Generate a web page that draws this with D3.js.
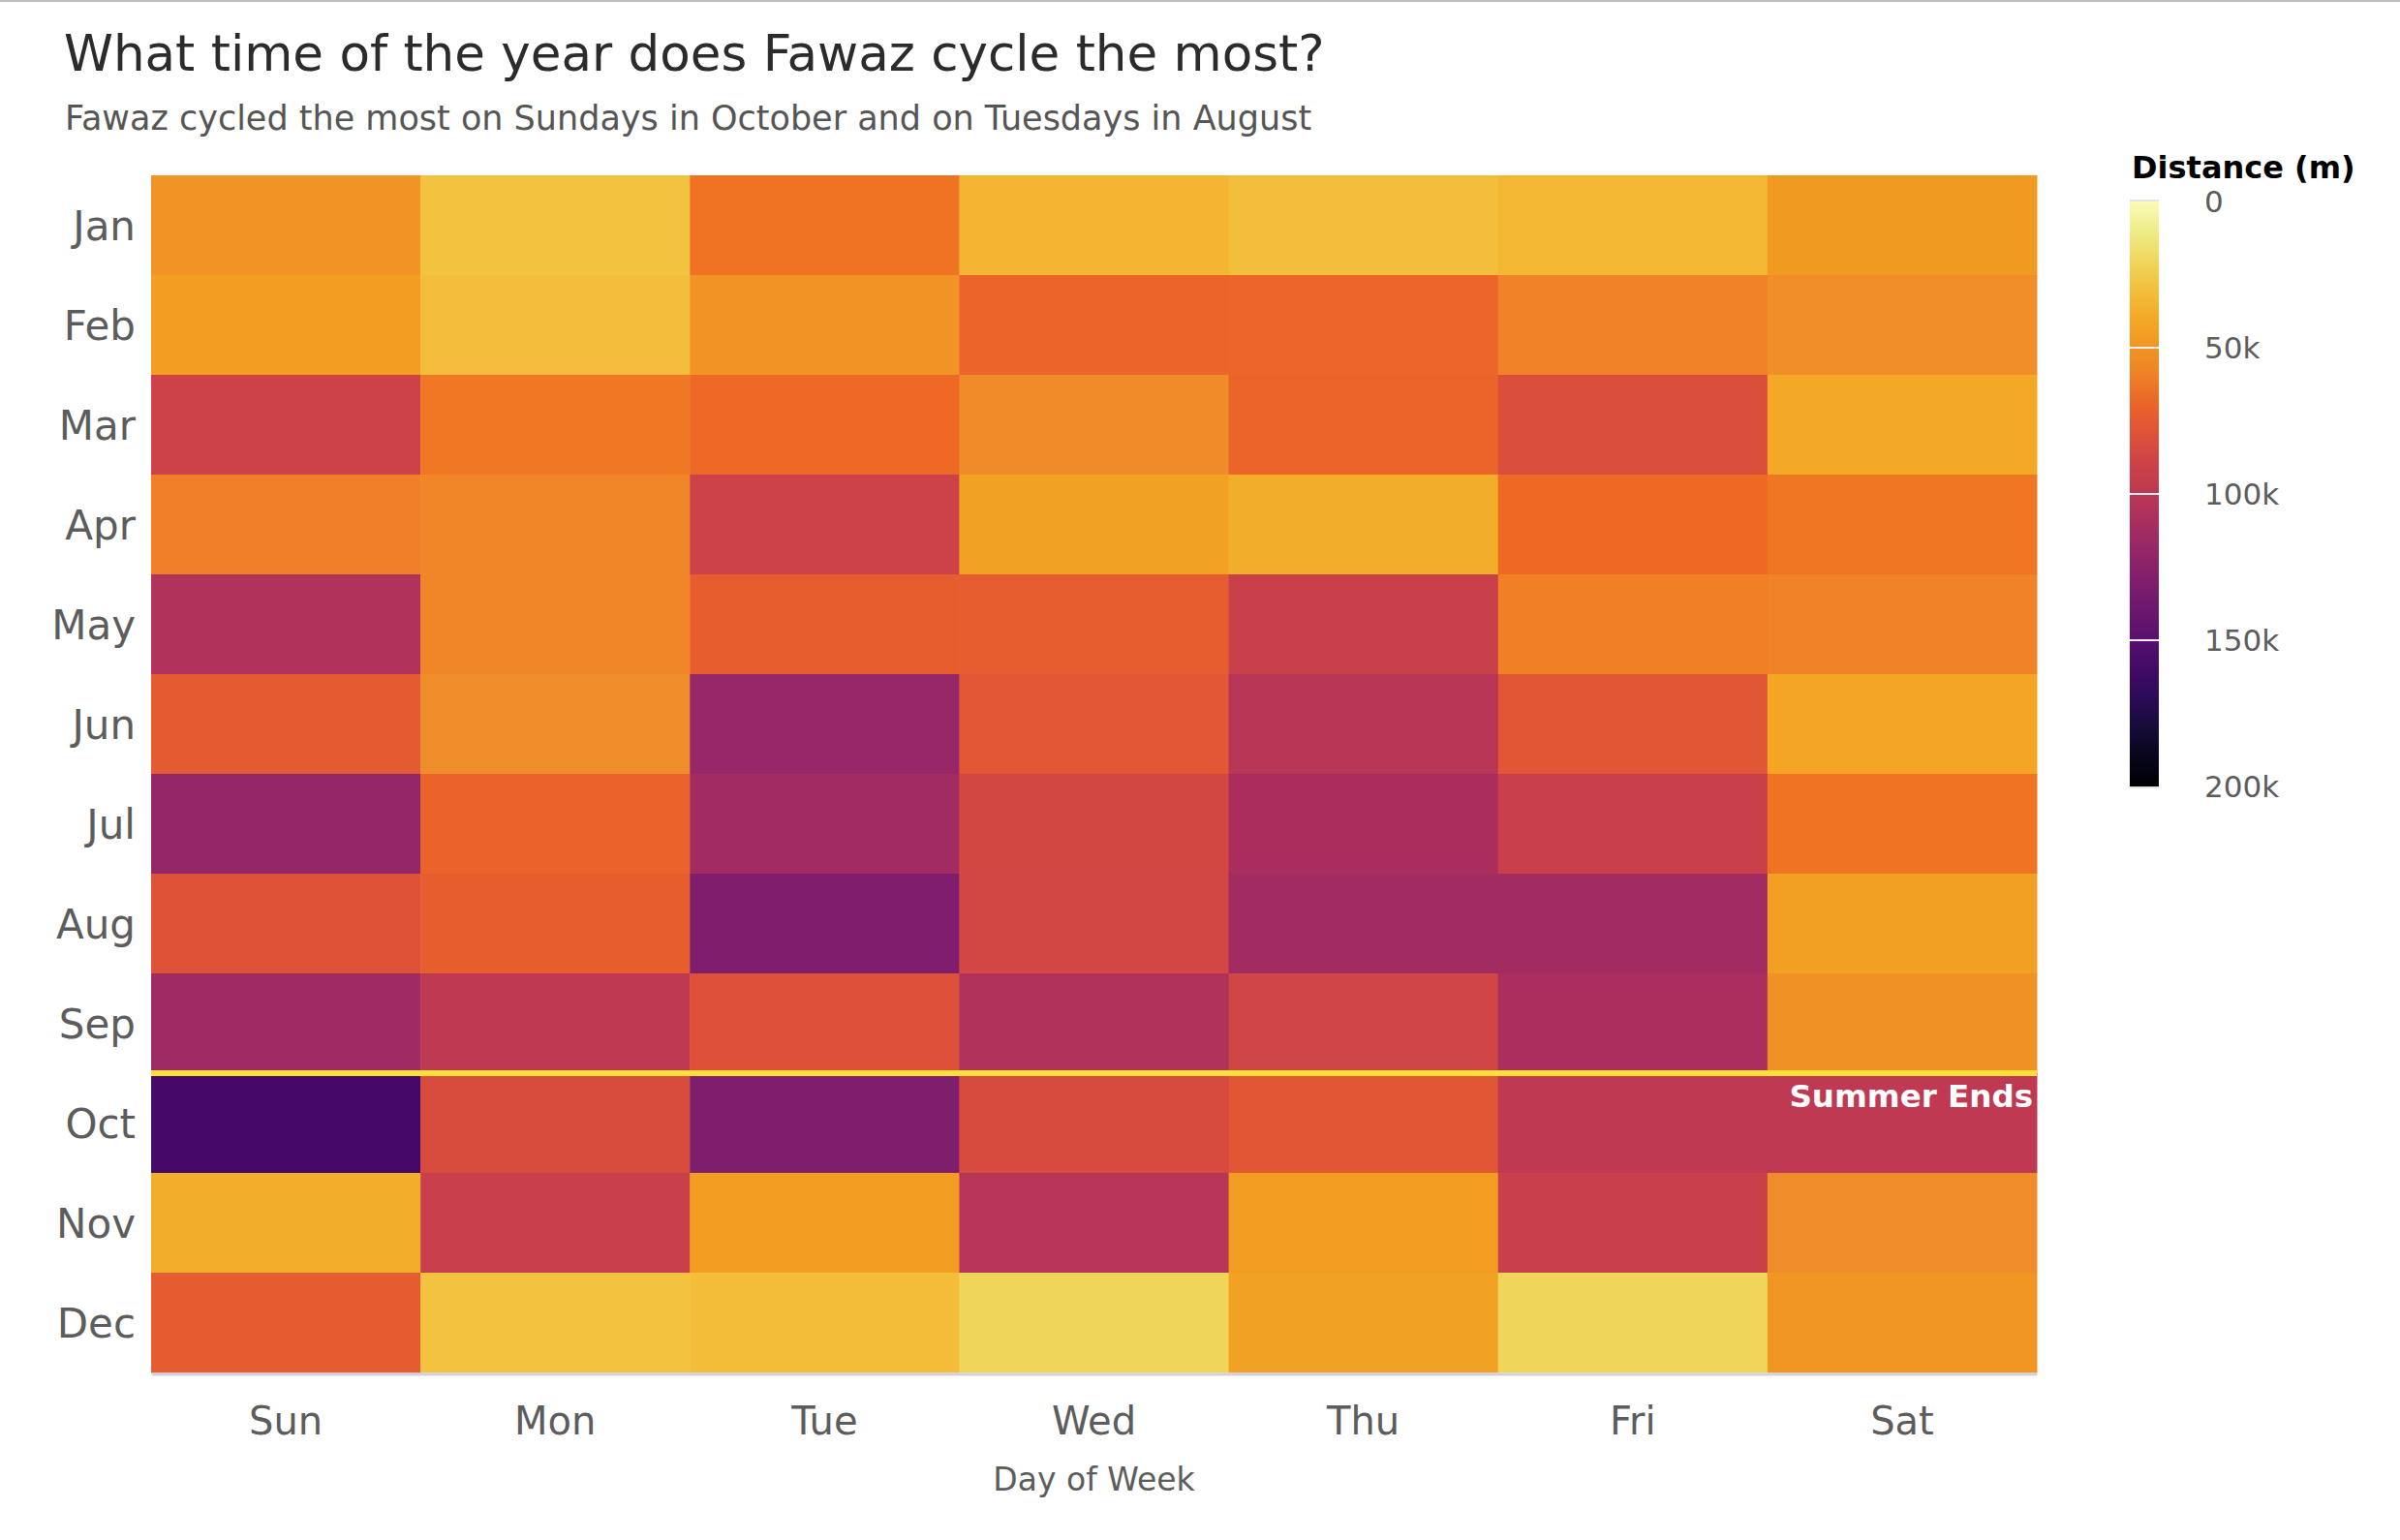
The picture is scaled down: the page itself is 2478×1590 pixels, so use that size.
<!DOCTYPE html>
<html>
  <head>
    <meta charset="utf-8">
    <title>What time of the year does Fawaz cycle the most?</title>
    <style>
      html, body {
        margin: 0;
        padding: 0;
        background: #fff;
      }
      svg text {
        font-family: 'DejaVu Sans', 'Open Sans', sans-serif;
      }
    </style>
  </head>
  <body>
    <div id="chart"></div>

    <script src="https://cdn.jsdelivr.net/npm/d3@7"></script>
    <script>
    // data: total distance (m) per month / weekday
    var days = ['Sun', 'Mon', 'Tue', 'Wed', 'Thu', 'Fri', 'Sat'];
    var months = ['Jan', 'Feb', 'Mar', 'Apr', 'May', 'Jun', 'Jul', 'Aug', 'Sep', 'Oct', 'Nov', 'Dec'];

    var jan = [51000, 29000, 63000, 35000, 31000, 34000, 47000];
    var feb = [45000, 31000, 51000, 69000, 68000, 58000, 53000];
    var mar = [90000, 61000, 67000, 55000, 69000, 82000, 40000];
    var apr = [60000, 57000, 90000, 43000, 38000, 66000, 62000];
    var may = [105000, 57000, 72000, 73000, 92000, 59000, 58000];
    var jun = [75000, 54000, 118000, 76000, 101000, 77000, 42000];
    var jul = [120000, 70000, 113000, 86000, 109000, 92000, 63000];
    var aug = [79000, 72000, 130000, 87000, 113000, 113000, 44000];
    var sep = [114000, 98000, 80000, 105000, 88000, 108000, 52000];
    var oct = [158000, 83000, 130000, 84000, 77000, 98000, 98000];
    var nov = [38000, 92000, 46000, 102000, 46000, 92000, 54000];
    var dec = [74000, 29000, 32000, 21000, 43000, 21000, 50000];
    var distance = [jan, feb, mar, apr, may, jun, jul, aug, sep, oct, nov, dec];

    var legendTicks = [0, 50000, 100000, 150000, 200000];

    var width = 2478, height = 1590;
    var plot = { left: 156, right: 2103, top: 181, bottom: 1417 };

    var svg = d3.select('#chart').append('svg')
      .attr('width', width)
      .attr('height', height);

    // thin grey rule across the very top
    svg.append('rect')
      .attr('x', 0).attr('y', 0)
      .attr('width', width).attr('height', 2)
      .attr('fill', '#bdbdbd');

    svg.append('text')
      .attr('x', 66).attr('y', 73)
      .attr('font-size', 51.5)
      .attr('fill', '#2b2b2b')
      .text('What time of the year does Fawaz cycle the most?');

    svg.append('text')
      .attr('x', 67).attr('y', 134)
      .attr('font-size', 35)
      .attr('fill', '#555')
      .text('Fawaz cycled the most on Sundays in October and on Tuesdays in August');

    var x = d3.scaleBand().domain(days).range([plot.left, plot.right]);
    var y = d3.scaleBand().domain(months).range([plot.top, plot.bottom]);

    // inferno, with the orange/yellow end slightly softened like the screenshot
    var softInferno = function(t) {
      var c = d3.hsl(d3.interpolateInferno(t));
      var w = (c.h < 90) ? Math.max(0, Math.min(1, (c.h - 22) / 8)) : 0;
      c.s *= 1 - 0.08 * w;
      c.l += 0.035 * w;
      return c.formatHex();
    };
    var color = d3.scaleSequential(softInferno).domain([200000, 0]);

    var cells = [];
    months.forEach(function(m, i) {
      days.forEach(function(d, j) {
        cells.push({ month: m, day: d, value: distance[i][j] });
      });
    });

    svg.append('g').selectAll('rect')
      .data(cells)
      .join('rect')
        .attr('x', function(d) { return x(d.day); })
        .attr('y', function(d) { return y(d.month); })
        .attr('width', x.bandwidth() + 0.5)
        .attr('height', y.bandwidth() + 0.5)
        .attr('fill', function(d) { return color(d.value); });

    // axes
    var xAxis = svg.append('g')
      .attr('transform', 'translate(0,' + plot.bottom + ')')
      .call(d3.axisBottom(x).tickSize(0).tickPadding(36));
    xAxis.select('.domain').attr('stroke', '#d2d1de').attr('stroke-width', 3)
      .attr('transform', 'translate(0,1.5)');
    xAxis.selectAll('text')
      .attr('font-size', 40)
      .attr('fill', '#5c5c5c')
      .attr('dy', '0.71em');

    var yAxis = svg.append('g')
      .attr('transform', 'translate(' + (plot.left - 16) + ',0)')
      .call(d3.axisLeft(y).tickSize(0).tickPadding(0));
    yAxis.select('.domain').remove();
    yAxis.selectAll('text')
      .attr('font-size', 42)
      .attr('fill', '#5c5c5c')
      .attr('dy', '0.36em');

    svg.append('text')
      .attr('x', (plot.left + plot.right) / 2)
      .attr('y', 1539)
      .attr('text-anchor', 'middle')
      .attr('font-size', 33)
      .attr('fill', '#5c5c5c')
      .text('Day of Week');

    // "Summer Ends" marker between Sep and Oct
    var lineY = y('Oct');
    svg.append('line')
      .attr('x1', plot.left).attr('x2', plot.right)
      .attr('y1', lineY).attr('y2', lineY)
      .attr('stroke', '#fbe03a')
      .attr('stroke-width', 6);

    svg.append('text')
      .attr('x', plot.right - 4)
      .attr('y', lineY + 35)
      .attr('text-anchor', 'end')
      .attr('font-size', 32.5)
      .attr('font-weight', 'bold')
      .attr('fill', '#fff')
      .text('Summer Ends');

    // colour bar legend
    var legend = { x: 2199, w: 30, top: 208, bottom: 812 };
    var ly = d3.scaleLinear().domain([0, 200000]).range([legend.top, legend.bottom]);

    var grad = svg.append('defs').append('linearGradient')
      .attr('id', 'infernoGrad')
      .attr('x1', 0).attr('y1', 0).attr('x2', 0).attr('y2', 1);
    d3.range(0, 1.0001, 0.05).forEach(function(t) {
      grad.append('stop')
        .attr('offset', t)
        .attr('stop-color', color(t * 200000));
    });

    svg.append('rect')
      .attr('x', legend.x).attr('y', legend.top - 2)
      .attr('width', legend.w).attr('height', legend.bottom - legend.top + 4)
      .attr('fill', '#e4e4e4');
    svg.append('rect')
      .attr('x', legend.x).attr('y', legend.top)
      .attr('width', legend.w).attr('height', legend.bottom - legend.top)
      .attr('fill', 'url(#infernoGrad)');

    svg.append('g').selectAll('line')
      .data(legendTicks.slice(1, -1))
      .join('line')
        .attr('x1', legend.x).attr('x2', legend.x + legend.w)
        .attr('y1', function(d) { return ly(d); })
        .attr('y2', function(d) { return ly(d); })
        .attr('stroke', '#f2eef0')
        .attr('stroke-width', 2);

    svg.append('g').selectAll('text')
      .data(legendTicks)
      .join('text')
        .attr('x', 2276)
        .attr('y', function(d) { return ly(d); })
        .attr('dy', '0.36em')
        .attr('font-size', 31)
        .attr('fill', '#5c5c5c')
        .text(function(d) { return d === 0 ? '0' : (d / 1000) + 'k'; });

    svg.append('text')
      .attr('x', 2201).attr('y', 184)
      .attr('font-size', 32)
      .attr('font-weight', 'bold')
      .attr('fill', '#000')
      .text('Distance (m)');
    </script>
  </body>
</html>
